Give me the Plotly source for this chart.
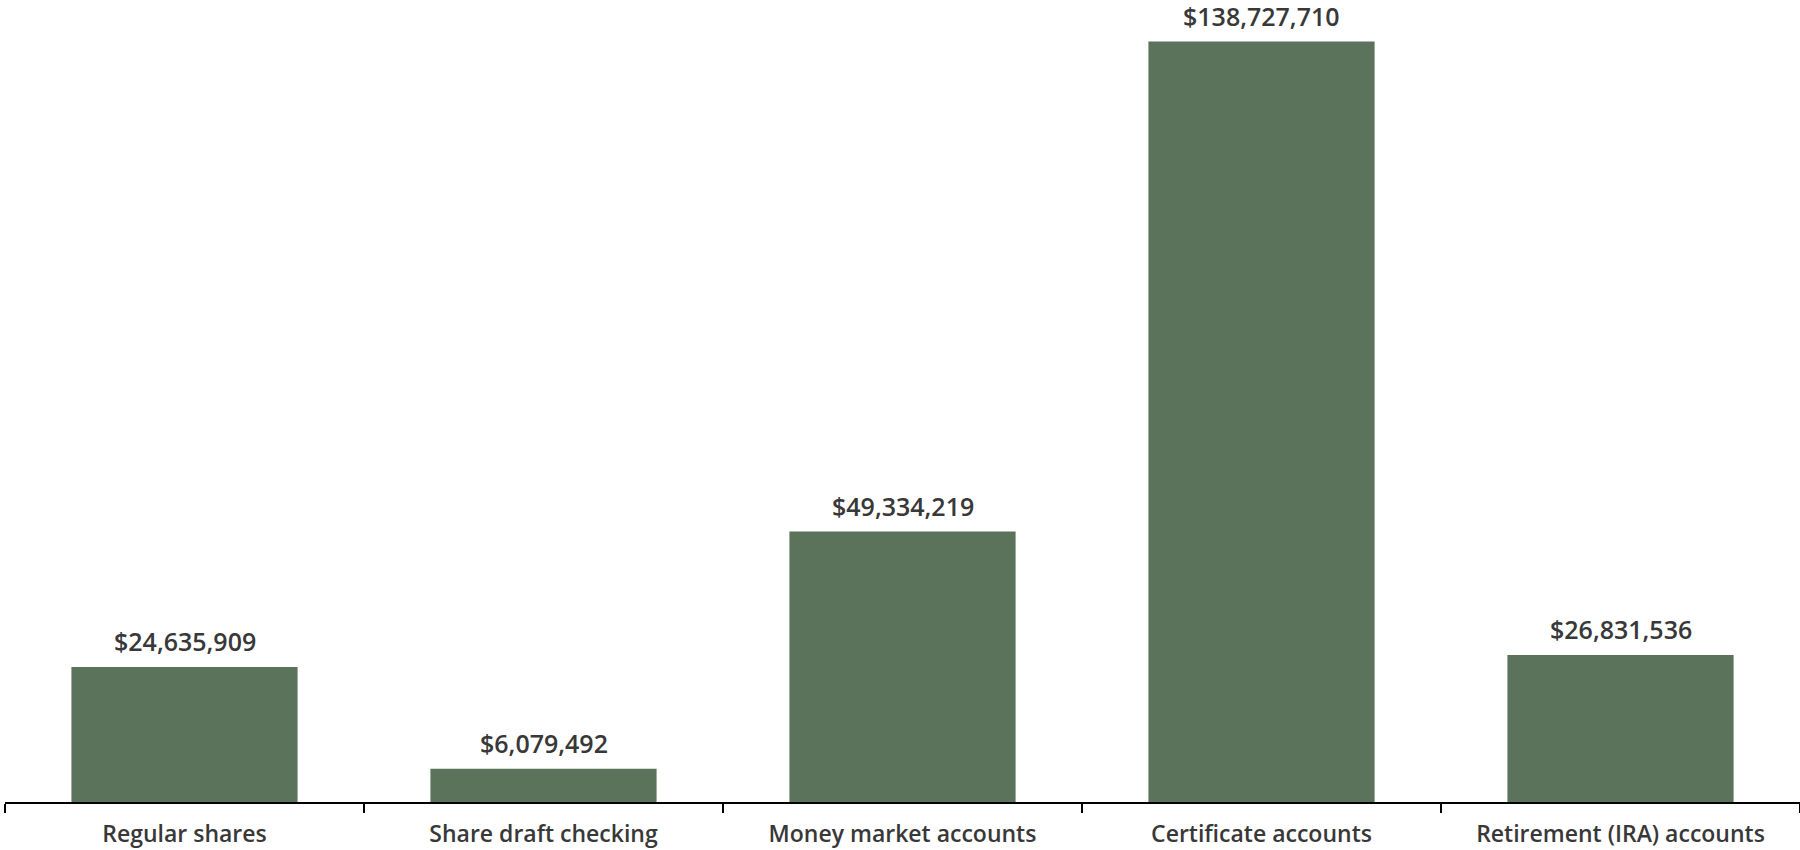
import plotly.graph_objects as go

categories = [
    "Regular shares",
    "Share draft checking",
    "Money market accounts",
    "Certificate accounts",
    "Retirement (IRA) accounts",
]
balances = [24635909, 6079492, 49334219, 138727710, 26831536]

bar_color = "#5a735a"
text_color = "#383838"
font_family = "Open Sans, Noto Sans, sans-serif"

fig = go.Figure(
    go.Bar(
        x=categories,
        y=balances,
        marker=dict(color=bar_color, line=dict(width=0)),
        hoverinfo="skip",
    )
)

# Dollar value labels above each bar
for cat, val in zip(categories, balances):
    fig.add_annotation(
        x=cat,
        y=val,
        text=f"${val:,.0f}",
        showarrow=False,
        yanchor="bottom",
        yshift=7,
        font=dict(family=font_family, size=25, color=text_color, weight=600),
    )

fig.update_layout(
    width=1800,
    height=850,
    margin=dict(l=5, r=0, t=0, b=48),
    plot_bgcolor="white",
    paper_bgcolor="white",
    bargap=0.37,
    showlegend=False,
    xaxis=dict(
        showline=True,
        linecolor="black",
        linewidth=2,
        ticks="outside",
        tickson="boundaries",
        ticklen=9,
        tickwidth=2,
        tickcolor="black",
        ticklabelstandoff=10,
        showgrid=False,
        tickfont=dict(family=font_family, size=23, color=text_color, weight=600),
    ),
    yaxis=dict(
        range=[0, 146.3e6],
        visible=False,
        showgrid=False,
        zeroline=False,
    ),
)

fig.write_html("out.html")
